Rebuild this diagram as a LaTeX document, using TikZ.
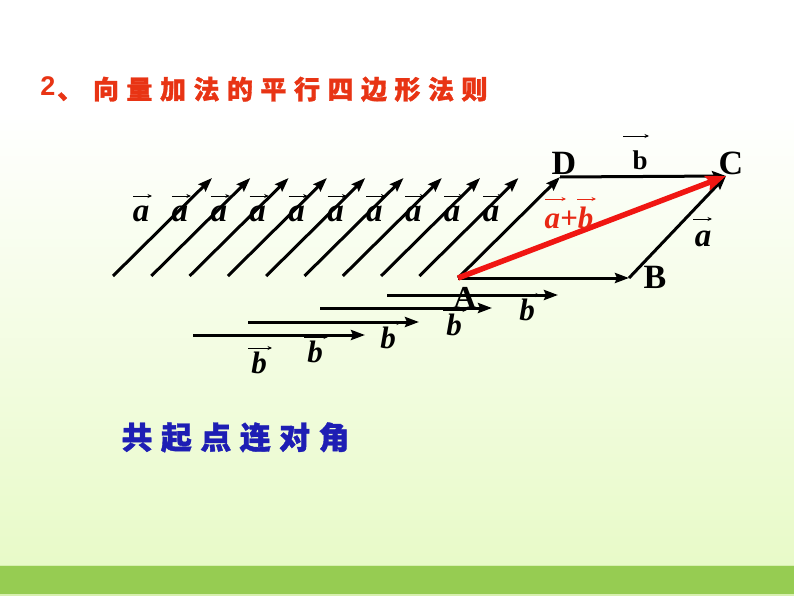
\documentclass[tikz,border=0pt]{standalone}
\usepackage{fontspec}
\setmainfont{Liberation Serif}
\newfontfamily\cjk{Noto Sans CJK SC}[BoldFeatures={FakeBold=1.2}]
\newfontfamily\lsans{Liberation Sans}
\usetikzlibrary{arrows.meta}
\definecolor{titlered}{RGB}{232,52,20}
\definecolor{sumred}{RGB}{240,22,18}
\definecolor{labred}{RGB}{232,40,20}
\definecolor{ruleblue}{RGB}{30,30,180}
\definecolor{bggreen}{RGB}{232,250,200}
\definecolor{stripgreen}{RGB}{150,204,82}
\definecolor{stripedge}{RGB}{215,240,175}
\begin{document}
\begin{tikzpicture}[x=1pt,y=-1pt,
  vecarrow/.style={line width=3pt,-{Stealth[length=14pt,width=10pt,inset=2pt]}},
  sumarrow/.style={line width=5.5pt,draw=sumred,-{Stealth[length=20pt,width=15pt,inset=3pt]}},
  ovec/.style={line width=0.9pt,-{Stealth[length=4.5pt,width=4pt]}},
  ovecred/.style={ovec,draw=labred},
  labi/.style={font=\fontsize{33}{33}\selectfont\bfseries\itshape,inner sep=0pt,anchor=base},
  labbi/.style={font=\fontsize{31}{31}\selectfont\bfseries\itshape,inner sep=0pt,anchor=base},
  labu/.style={font=\fontsize{34}{34}\selectfont\bfseries,inner sep=0pt,anchor=base},
  labb/.style={font=\fontsize{27}{27}\selectfont\bfseries,inner sep=0pt,anchor=base},
  titlech/.style={font=\fontsize{26}{26}\selectfont\cjk\bfseries,text=titlered,inner sep=0pt,anchor=base},
  rulech/.style={font=\fontsize{31}{31}\selectfont\cjk\bfseries,text=ruleblue,inner sep=0pt,anchor=base}]
\useasboundingbox (0,0) rectangle (794,596);
% background
\fill[white] (0,0) rectangle (794,110);
\shade[top color=white,bottom color=bggreen] (0,110) rectangle (794,565);
\fill[stripgreen] (0,565) rectangle (794,594);
\fill[stripedge] (0,594) rectangle (794,596);
\draw[stripedge,line width=1pt] (0,565) -- (794,565);

% title
\node[font=\fontsize{27}{27}\selectfont\lsans\bfseries,text=titlered,inner sep=0pt,anchor=base] (t0) at (48,96) {2};
\node[titlech,anchor=base west] (tc) at (57,99) {、};
\foreach \c [count=\i from 0] in {向,量,加,法,的,平,行,四,边,形,法,则}
  \node[titlech] (t\i) at (106+33.5*\i,99) {\c};

% labels of a (drawn under the arrows)
\foreach \k in {0,...,9}{
  \node[labi] (a\k) at (141+38.9*\k,221) {a};
  \draw[ovec] ([shift={(-8,-25)}]a\k.base) -- ([shift={(11,-25)}]a\k.base);
}
% labels of b
\node[labbi] (b1) at (259,373) {b};
\node[labbi] (b2) at (315,362) {b};
\node[labbi] (b3) at (388,348) {b};
\node[labbi] (b4) at (454,335) {b};
\node[labbi] (b5) at (527,320) {b};
\foreach \n in {b1,b2,b3,b4,b5}
  \draw[ovec] ([shift={(-11,-25)}]\n.base) -- ([shift={(13,-25)}]\n.base);

% parallelogram points
\coordinate (A) at (458,278);
\coordinate (B) at (629,278);
\coordinate (D) at (560,177);
\coordinate (C) at (726,176);

% diagonal a arrows
\foreach \k in {0,...,8}{
  \coordinate (s\k) at (113+38.3*\k,276);
  \coordinate (e\k) at (212+38.3*\k,178);
  \draw[vecarrow] (s\k) -- (e\k);
}
% horizontal b arrows
\coordinate (h1s) at (193,335); \coordinate (h1e) at (365,335);
\coordinate (h2s) at (248,322); \coordinate (h2e) at (419,322);
\coordinate (h3s) at (320,308); \coordinate (h3e) at (492,308);
\coordinate (h4s) at (387,295); \coordinate (h4e) at (558,295);
\foreach \i in {1,2,3,4}
  \draw[vecarrow] (h\i s) -- (h\i e);

% parallelogram
\draw[vecarrow] (A) -- (B);
\draw[vecarrow] (A) -- (D);
\draw[vecarrow] (D) -- (C);
\draw[vecarrow] (B) -- (C);
\draw[sumarrow] (A) -- (C);

% vertex labels
\node[labu,font=\fontsize{32}{32}\selectfont\bfseries] (lA) at (465,308) {A};
\node[labu] (lB) at (655,288) {B};
\node[labu] (lC) at (731,175) {C};
\node[labu] (lD) at (564,175) {D};

% side labels
\node[labb] (lb) at (640,170) {b};
\draw[ovec] ([shift={(-17,-34)}]lb.base) -- ([shift={(9,-34)}]lb.base);
\node[labi] (la) at (703,246) {a};
\draw[ovec] ([shift={(-10,-27)}]la.base) -- ([shift={(9,-27)}]la.base);
\node[labbi,text=labred] (lab) at (569,228) {a+b};
\draw[ovecred] ([shift={(-24,-29)}]lab.base) -- ([shift={(-3,-29)}]lab.base);
\draw[ovecred] ([shift={(8,-29)}]lab.base) -- ([shift={(27,-29)}]lab.base);

% rule
\foreach \c [count=\i from 0] in {共,起,点,连,对,角}
  \node[rulech] (r\i) at (137+39.4*\i,449) {\c};
\end{tikzpicture}
\end{document}
